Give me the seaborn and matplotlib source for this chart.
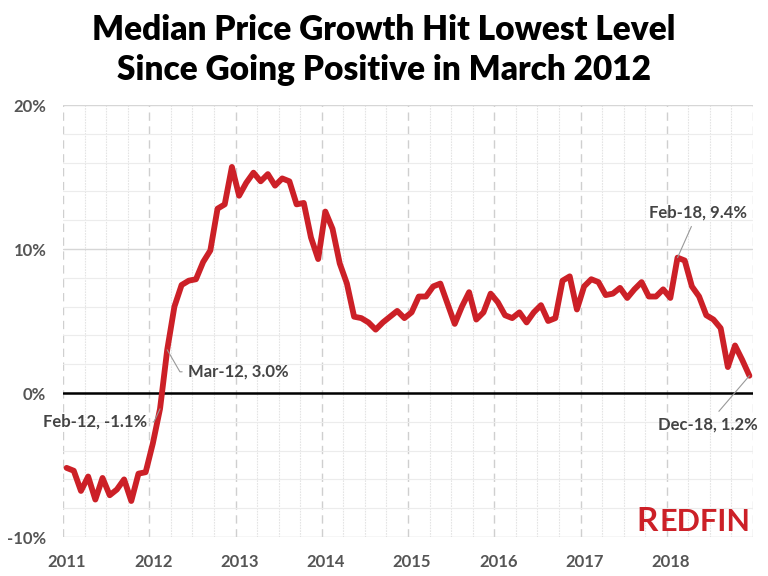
import matplotlib
matplotlib.use("Agg")
import matplotlib.pyplot as plt
import matplotlib.transforms as mtransforms
from matplotlib.ticker import FixedLocator, FuncFormatter
import seaborn as sns
import pandas as pd
import numpy as np

# year-over-year median sale price growth, %, monthly
years = [2011, 2012, 2013, 2014, 2015, 2016, 2017, 2018]
month_names = ['Jan', 'Feb', 'Mar', 'Apr', 'May', 'Jun',
               'Jul', 'Aug', 'Sep', 'Oct', 'Nov', 'Dec']
growth_2011 = [-5.2, -5.4, -6.8, -5.8, -7.4, -5.9, -7.1, -6.7, -6.0, -7.5, -5.6, -5.5]
growth_2012 = [-3.5, -1.1, 3.0, 6.0, 7.5, 7.8, 7.9, 9.1, 9.9, 12.8, 13.1, 15.7]
growth_2013 = [13.7, 14.6, 15.3, 14.7, 15.2, 14.4, 14.9, 14.7, 13.1, 13.2, 10.8, 9.3]
growth_2014 = [12.6, 11.4, 9.0, 7.6, 5.3, 5.2, 4.9, 4.4, 4.9, 5.3, 5.7, 5.2]
growth_2015 = [5.6, 6.7, 6.7, 7.4, 7.6, 6.2, 4.8, 6.0, 7.0, 5.1, 5.6, 6.9]
growth_2016 = [6.3, 5.4, 5.2, 5.6, 4.9, 5.6, 6.1, 5.0, 5.2, 7.8, 8.1, 5.8]
growth_2017 = [7.4, 7.9, 7.7, 6.8, 6.9, 7.3, 6.6, 7.2, 7.7, 6.7, 6.7, 7.2]
growth_2018 = [6.6, 9.4, 9.2, 7.4, 6.7, 5.4, 5.1, 4.5, 1.8, 3.3, 2.3, 1.2]

y_ticks = [-10, 0, 10, 20]
x_tick_labels = ['2011', '2012', '2013', '2014', '2015', '2016', '2017', '2018']

# labelled points: (month label, offset of text in pixels, ha, connection)
callouts = {
    'Feb-12': ((-13, -13), 'right', 'angle,angleA=0,angleB=65,rad=0'),
    'Mar-12': ((21, -22), 'left', 'angle,angleA=0,angleB=-60,rad=0'),
    'Feb-18': ((20, 45), 'center', 'arc3'),
    'Dec-18': ((-42, -49), 'center', 'arc3'),
}

all_growth = [growth_2011, growth_2012, growth_2013, growth_2014,
              growth_2015, growth_2016, growth_2017, growth_2018]
rows = []
for yr, vals in zip(years, all_growth):
    for m, v in enumerate(vals):
        rows.append({'t': yr + (m + 0.5) / 12.0,
                     'label': f"{month_names[m]}-{str(yr)[2:]}",
                     'growth': v})
df = pd.DataFrame(rows)

sns.set_style("white")
plt.rcParams['font.family'] = ['Lato', 'DejaVu Sans']

red = '#CC2027'
fig = plt.figure(figsize=(7.68, 5.76), dpi=100)
ax = fig.add_axes([63 / 768, 1 - 537 / 576, 690 / 768, 432 / 576])

sns.lineplot(data=df, x='t', y='growth', color=red, linewidth=4.2, ax=ax, zorder=5)
ax.axhline(0, color='black', linewidth=1.8, zorder=4)

ax.set_xlim(2011, 2019)
ax.set_ylim(-10, 20)

# grid
ax.xaxis.set_major_locator(FixedLocator([y + 0.0 for y in years] + [2019]))
ax.xaxis.set_minor_locator(FixedLocator([y + q / 4 for y in years for q in (1, 2, 3)]))
ax.yaxis.set_major_locator(FixedLocator(y_ticks))
ax.yaxis.set_minor_locator(FixedLocator([v for v in range(-10, 21, 2) if v % 10]))
ax.grid(which='major', axis='x', color='#cfcfcf', linestyle=(0, (6, 4)), linewidth=1)
ax.grid(which='minor', axis='x', color='#e4e4e4', linestyle=(0, (1.5, 1)), linewidth=0.8)
ax.grid(which='major', axis='y', color='#d6d6d6', linewidth=1)
ax.grid(which='minor', axis='y', color='#ececec', linewidth=0.8)
ax.set_axisbelow(True)

ax.set_xticklabels(x_tick_labels + [''])
ax.yaxis.set_major_formatter(FuncFormatter(lambda v, p: f"{v:.0f}%"))
ax.tick_params(which='both', length=0)
ax.tick_params(axis='y', pad=12)
ax.tick_params(axis='x', pad=12)
for lab in ax.get_xticklabels() + ax.get_yticklabels():
    lab.set_fontsize(12)
    lab.set_fontweight('bold')
    lab.set_color('#555555')
shift = mtransforms.ScaledTranslation(4 / 100, 0, fig.dpi_scale_trans)
for lab in ax.get_xticklabels():
    lab.set_transform(lab.get_transform() + shift)

for s in ax.spines.values():
    s.set_visible(False)
ax.set_xlabel('')
ax.set_ylabel('')

for key, (off, ha, conn) in callouts.items():
    row = df[df['label'] == key].iloc[0]
    ax.annotate(f"{key}, {row['growth']:.1f}%", xy=(row['t'], row['growth']),
                xytext=off, textcoords='offset pixels', ha=ha, va='center',
                fontsize=12, fontweight='bold', color='#444444', zorder=6,
                arrowprops=dict(arrowstyle='-', color='#999999', lw=0.8,
                                connectionstyle=conn, shrinkA=2, shrinkB=0))

fig.text(0.5, 1 - 30 / 576, 'Median Price Growth Hit Lowest Level',
         ha='center', va='center', fontsize=24, fontweight='heavy', color='black')
fig.text(0.5, 1 - 70 / 576, 'Since Going Positive in March 2012',
         ha='center', va='center', fontsize=24, fontweight='heavy', color='black')

# logo
fig.text(636 / 768, 1 - 531 / 576, 'R', ha='left', va='baseline',
         fontsize=24, fontweight='bold', color=red)
fig.text(659 / 768, 1 - 531 / 576, 'EDFIN', ha='left', va='baseline',
         fontsize=22, fontweight='bold', color=red)

fig.savefig('out.png', dpi=100)
